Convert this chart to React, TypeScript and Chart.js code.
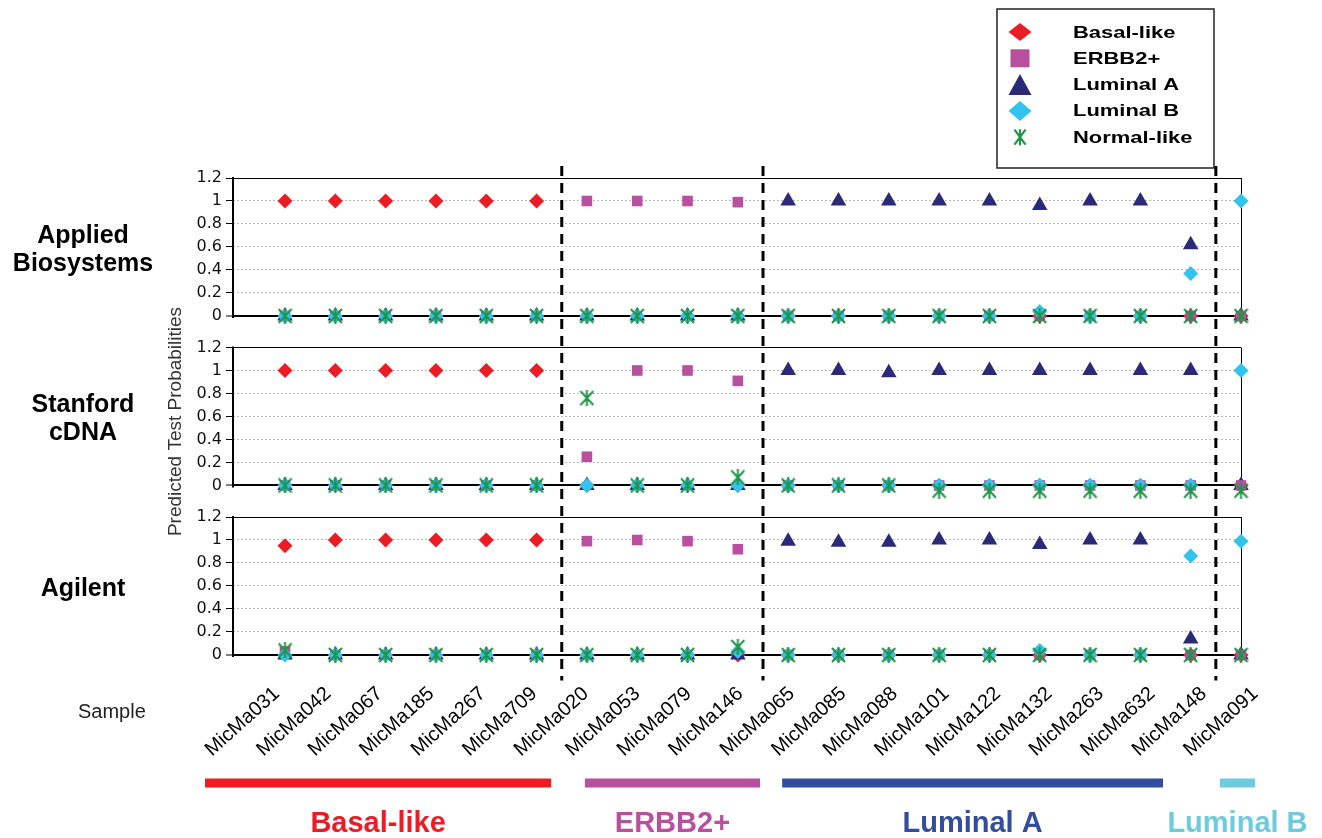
import React, { useEffect, useRef } from "react";
import { Chart, registerables } from "chart.js";

Chart.register(...registerables);

// ---------------- data ----------------
const SAMPLES = [
  "MicMa031", "MicMa042", "MicMa067", "MicMa185", "MicMa267", "MicMa709", "MicMa020",
  "MicMa053", "MicMa079", "MicMa146", "MicMa065", "MicMa085", "MicMa088", "MicMa101",
  "MicMa122", "MicMa132", "MicMa263", "MicMa632", "MicMa148", "MicMa091",
];
const SUBTYPES = ["Basal-like", "ERBB2+", "Luminal A", "Luminal B", "Normal-like"];
const PLATFORM_TITLES = [["Applied", "Biosystems"], ["Stanford", "cDNA"], ["Agilent"]];
const Y_TICKS = [0, 0.2, 0.4, 0.6, 0.8, 1, 1.2];
const Y_TITLE = "Predicted Test Probabilities";
const X_TITLE = "Sample";
const GROUP_LABELS = ["Basal-like", "ERBB2+", "Luminal A", "Luminal B"];
const GROUP_LAST_INDEX = [5, 9, 18];

// Applied Biosystems
const abBasal = [1, 1, 1, 1, 1, 1, 0, 0, 0, 0, 0, 0, 0, 0, 0, 0, 0, 0, 0, 0];
const abErbb2 = [0, 0, 0, 0, 0, 0, 1, 1, 1, 0.99, 0, 0, 0, 0, 0, 0, 0, 0, 0, 0];
const abLumA = [0, 0, 0, 0, 0, 0, 0, 0, 0, 0, 1, 1, 1, 1, 1, 0.96, 1, 1, 0.62, 0];
const abLumB = [0, 0, 0, 0, 0, 0, 0, 0, 0, 0, 0, 0, 0, 0, 0, 0.04, 0, 0, 0.37, 1];
const abNormal = [0, 0, 0, 0, 0, 0, 0, 0, 0, 0, 0, 0, 0, 0, 0, 0, 0, 0, 0, 0];

// Stanford cDNA
const stBasal = [1, 1, 1, 1, 1, 1, 0, 0, 0, 0, 0, 0, 0, 0, 0, 0, 0, 0, 0, 0];
const stErbb2 = [0, 0, 0, 0, 0, 0, 0.25, 1, 1, 0.91, 0, 0, 0, 0, 0, 0, 0, 0, 0, 0];
const stLumA = [0, 0, 0, 0, 0, 0, 0, 0, 0, 0, 1, 1, 0.98, 1, 1, 1, 1, 1, 1, 0];
const stLumB = [0, 0, 0, 0, 0, 0, 0, 0, 0, 0, 0, 0, 0, 0, 0, 0, 0, 0, 0, 1];
const stNormal = [0, 0, 0, 0, 0, 0, 0.76, 0, 0, 0.07, 0, 0, 0, -0.045, -0.045, -0.045, -0.045, -0.045, -0.045, -0.045];

// Agilent
const agBasal = [0.95, 1, 1, 1, 1, 1, 0, 0, 0, 0, 0, 0, 0, 0, 0, 0, 0, 0, 0, 0];
const agErbb2 = [0.03, 0, 0, 0, 0, 0, 0.99, 1, 0.99, 0.92, 0, 0, 0, 0, 0, 0, 0, 0, 0, 0];
const agLumA = [0, 0, 0, 0, 0, 0, 0, 0, 0, 0, 0.99, 0.98, 0.98, 1, 1, 0.96, 1, 1, 0.14, 0];
const agLumB = [0, 0, 0, 0, 0, 0, 0, 0, 0, 0.03, 0, 0, 0, 0, 0, 0.04, 0, 0, 0.86, 0.99];
const agNormal = [0.04, 0, 0, 0, 0, 0, 0, 0, 0, 0.07, 0, 0, 0, 0, 0, 0, 0, 0, 0, 0];

const PANEL_DATA = [
  [abBasal, abErbb2, abLumA, abLumB, abNormal],
  [stBasal, stErbb2, stLumA, stLumB, stNormal],
  [agBasal, agErbb2, agLumA, agLumB, agNormal],
];

// ---------------- styles / layout ----------------
const W = 1322;
const H = 838;
const FONT = "'Liberation Sans', Arial, sans-serif";
const SUB_COLORS = ["#ec1c24", "#b9509f", "#2a2a78", "#33c3ef", "#1f9546"];
const POINT_RADII = [7.5, 7.5, 9, 7.5, 8];
const DRAW_ORDER = [4, 2, 3, 1, 0];
const GROUP_COLORS = ["#ec1c24", "#b9509f", "#334d9e", "#6ccbdc"];
const GROUP_BAR_SPANS = [[-1.59, 5.29], [5.96, 9.44], [9.88, 17.45], [18.58, 19.28]];
const PANEL_AXES = ["yAB", "yST", "yAG"];
const Y_MIN = -0.274;
const X_MIN = -1.034;
const LABEL_MIN = -0.72;
const LABEL_MAX = 18.853;
const LABEL_ANGLE = 42;

function makeStar(color: string, w: number, h: number, lw: number) {
  const c = document.createElement("canvas");
  c.width = w;
  c.height = h;
  const g = c.getContext("2d")!;
  g.strokeStyle = color;
  g.lineWidth = lw;
  g.beginPath();
  g.moveTo(1, 1);
  g.lineTo(w - 1, h - 1);
  g.moveTo(w - 1, 1);
  g.lineTo(1, h - 1);
  g.moveTo(w / 2, 0);
  g.lineTo(w / 2, h);
  g.stroke();
  return c;
}

function drawMarker(ctx: CanvasRenderingContext2D, kind: number, x: number, y: number) {
  ctx.fillStyle = SUB_COLORS[kind];
  ctx.strokeStyle = SUB_COLORS[kind];
  ctx.beginPath();
  if (kind === 0 || kind === 3) {
    const w = 23, h = kind === 0 ? 18 : 20;
    ctx.moveTo(x, y - h / 2);
    ctx.lineTo(x + w / 2, y);
    ctx.lineTo(x, y + h / 2);
    ctx.lineTo(x - w / 2, y);
    ctx.closePath();
    ctx.fill();
  } else if (kind === 1) {
    ctx.rect(x - 9.5, y - 9, 19, 18);
    ctx.fill();
  } else if (kind === 2) {
    ctx.moveTo(x, y - 10.5);
    ctx.lineTo(x + 11.5, y + 10.5);
    ctx.lineTo(x - 11.5, y + 10.5);
    ctx.closePath();
    ctx.fill();
  } else {
    ctx.lineWidth = 2.2;
    ctx.moveTo(x - 5.5, y - 7.5);
    ctx.lineTo(x + 5.5, y + 7.5);
    ctx.moveTo(x + 5.5, y - 7.5);
    ctx.lineTo(x - 5.5, y + 7.5);
    ctx.moveTo(x, y - 8);
    ctx.lineTo(x, y + 8);
    ctx.stroke();
  }
}

const decorPlugin = {
  id: "decor",
  beforeDatasetsDraw(chart: any) {
    const { ctx, chartArea, scales } = chart;
    ctx.save();
    ctx.strokeStyle = "#000";
    PANEL_AXES.forEach((id) => {
      const s = scales[id];
      const top = s.getPixelForValue(1.2);
      const zero = s.getPixelForValue(0);
      ctx.lineWidth = 2;
      ctx.beginPath();
      ctx.moveTo(chartArea.left, top - 1);
      ctx.lineTo(chartArea.left, zero + 2);
      ctx.stroke();
      ctx.lineWidth = 1;
      ctx.beginPath();
      ctx.moveTo(chartArea.right + 0.5, top);
      ctx.lineTo(chartArea.right + 0.5, zero);
      ctx.stroke();
    });
    const top = scales[PANEL_AXES[0]].getPixelForValue(1.2) - 12;
    const bottom = chartArea.bottom - 6;
    ctx.lineWidth = 3;
    ctx.setLineDash([10, 7]);
    GROUP_LAST_INDEX.forEach((i) => {
      const x = (scales.x.getPixelForValue(i) + scales.x.getPixelForValue(i + 1)) / 2;
      ctx.beginPath();
      ctx.moveTo(x, top);
      ctx.lineTo(x, bottom);
      ctx.stroke();
    });
    ctx.restore();
  },
  afterDraw(chart: any) {
    const { ctx, chartArea, scales } = chart;
    ctx.save();
    // panel titles
    ctx.fillStyle = "#000";
    ctx.font = `bold 25px ${FONT}`;
    ctx.textAlign = "center";
    ctx.textBaseline = "middle";
    PANEL_AXES.forEach((id, p) => {
      const s = scales[id];
      const mid = (s.getPixelForValue(1.2) + s.getPixelForValue(0)) / 2 + 3;
      const lines = PLATFORM_TITLES[p];
      lines.forEach((t, k) => {
        ctx.fillText(t, chartArea.left - 150, mid + (k - (lines.length - 1) / 2) * 28);
      });
    });
    // y title
    const s2 = scales[PANEL_AXES[1]];
    const yMid = (s2.getPixelForValue(1.2) + s2.getPixelForValue(0)) / 2 + 5;
    ctx.save();
    ctx.translate(chartArea.left - 57, yMid);
    ctx.rotate(-Math.PI / 2);
    ctx.font = `19px ${FONT}`;
    ctx.fillStyle = "#333";
    ctx.fillText(Y_TITLE, 0, 0);
    ctx.restore();
    // sample title
    ctx.font = `20px ${FONT}`;
    ctx.fillStyle = "#222";
    ctx.textAlign = "left";
    ctx.fillText(X_TITLE, chartArea.left - 155, chartArea.bottom + 26);
    // sample labels
    ctx.font = `20px ${FONT}`;
    ctx.fillStyle = "#000";
    ctx.textAlign = "right";
    ctx.textBaseline = "top";
    SAMPLES.forEach((name, i) => {
      const x = scales.xLabel.getPixelForValue(i);
      ctx.save();
      ctx.translate(x, chartArea.bottom - 3);
      ctx.rotate((-LABEL_ANGLE * Math.PI) / 180);
      ctx.fillText(name, 0, 0);
      ctx.restore();
    });
    // group bars and labels
    ctx.textAlign = "center";
    ctx.textBaseline = "middle";
    ctx.font = `bold 29px ${FONT}`;
    GROUP_LABELS.forEach((g, k) => {
      const x0 = scales.x.getPixelForValue(GROUP_BAR_SPANS[k][0]);
      const x1 = scales.x.getPixelForValue(GROUP_BAR_SPANS[k][1]);
      ctx.fillStyle = GROUP_COLORS[k];
      ctx.fillRect(x0, chartArea.bottom + 92, x1 - x0, 9);
      ctx.fillText(g, (x0 + x1) / 2, chartArea.bottom + 137);
    });
    // legend
    ctx.strokeStyle = "#222";
    ctx.lineWidth = 1.5;
    ctx.strokeRect(997, 9, 217, 159);
    ctx.font = `bold 16.5px ${FONT}`;
    ctx.textAlign = "left";
    ctx.textBaseline = "middle";
    SUBTYPES.forEach((name, k) => {
      const y = 32 + k * 26.3;
      drawMarker(ctx, k, 1020, y);
      ctx.save();
      ctx.fillStyle = "#000";
      ctx.translate(1073, y + 1);
      ctx.scale(1.33, 1);
      ctx.fillText(name, 0, 0);
      ctx.restore();
    });
    ctx.restore();
  },
};

function yAxis(weight: number) {
  return {
    type: "linear",
    position: "left",
    stack: "platforms",
    stackWeight: 1,
    weight,
    min: Y_MIN,
    max: 1.2,
    afterBuildTicks: (scale: any) => {
      scale.ticks = Y_TICKS.map((v) => ({ value: v }));
    },
    afterFit: (scale: any) => {
      scale.width = 62;
    },
    ticks: {
      autoSkip: false,
      padding: 4,
      color: "#111",
      font: { family: "'DejaVu Sans', sans-serif", size: 16 },
      callback: (v: number) => String(v),
    },
    grid: {
      color: (c: any) => {
        const v = c.tick ? c.tick.value : 0;
        return v <= 0.001 || v >= 1.199 ? "#000" : "#b8b8b8";
      },
      lineWidth: (c: any) => (c.tick && c.tick.value <= 0.001 ? 2 : 1),
      tickColor: "#000",
      tickLength: 7,
      tickWidth: 1,
    },
    border: {
      display: false,
      dash: (c: any) => {
        const v = c.tick ? c.tick.value : 0;
        return v > 0.001 && v < 1.199 ? [2, 2] : [];
      },
    },
  };
}

export default function App() {
  const canvasRef = useRef<HTMLCanvasElement | null>(null);

  useEffect(() => {
    const canvas = canvasRef.current;
    if (!canvas) return;
    const star = makeStar(SUB_COLORS[4], 15, 16, 2);
    const styles: any[] = ["rectRot", "rect", "triangle", "rectRot", star];
    const datasets: any[] = [];
    PANEL_DATA.forEach((series, p) => {
      series.forEach((values, s) => {
        datasets.push({
          label: `${SUBTYPES[s]} ${p}`,
          data: values.map((v, i) => ({ x: i, y: v })),
          xAxisID: "x",
          yAxisID: PANEL_AXES[p],
          showLine: false,
          pointStyle: styles[s],
          pointRadius: POINT_RADII[s],
          pointHoverRadius: POINT_RADII[s],
          pointBackgroundColor: SUB_COLORS[s],
          pointBorderColor: SUB_COLORS[s],
          pointBorderWidth: 0,
          order: DRAW_ORDER[s],
          clip: false,
        });
      });
    });

    const chart = new Chart(canvas, {
      type: "scatter",
      data: { datasets },
      plugins: [decorPlugin],
      options: {
        responsive: false,
        animation: false,
        devicePixelRatio: 1,
        layout: { padding: { left: 171, right: 81, top: 178, bottom: H - 686.5 } },
        plugins: { legend: { display: false }, tooltip: { enabled: false } },
        scales: {
          x: { type: "linear", position: "bottom", min: X_MIN, max: SAMPLES.length - 1, display: false },
          xLabel: { type: "linear", position: "bottom", min: LABEL_MIN, max: LABEL_MAX, display: false },
          yAB: yAxis(3),
          yST: yAxis(2),
          yAG: yAxis(1),
        } as any,
      },
    } as any);
    return () => chart.destroy();
  }, []);

  return (
    <div style={{ position: "fixed", left: 0, top: 0, width: W, height: H, background: "#fff" }}>
      <canvas ref={canvasRef} width={W} height={H} style={{ display: "block" }} />
    </div>
  );
}
